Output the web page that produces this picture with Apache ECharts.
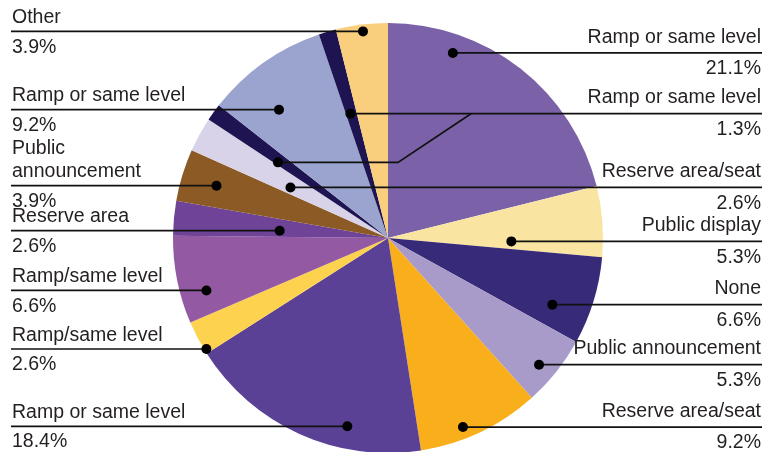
<!DOCTYPE html>
<html>
<head>
<meta charset="utf-8">
<script src="https://cdn.jsdelivr.net/npm/echarts@6/dist/echarts.min.js"></script>
<style>
  html, body { margin: 0; padding: 0; background: #ffffff; }
  #chart { width: 765px; height: 452px; }
</style>
</head>
<body>
<div id="chart"></div>
<script>
// Slices, clockwise from 12 o'clock
const categories = [
  'Ramp or same level', 'Public display', 'None', 'Public announcement',
  'Reserve area/seat', 'Ramp or same level', 'Ramp/same level', 'Ramp/same level',
  'Reserve area', 'Public\nannouncement', 'Reserve area/seat', 'Ramp or same level',
  'Ramp or same level', 'Ramp or same level', 'Other'
];
const shares = [21.1, 5.3, 6.6, 5.3, 9.2, 18.4, 2.6, 6.6, 2.6, 3.9, 2.6, 1.3, 9.2, 1.3, 3.9];

const sliceColors = [
  '#7b62a8', '#fae4a1', '#372a78', '#a89bc9', '#f9af1b', '#5b4196', '#fdd24f', '#935aa3',
  '#6e4398', '#8c5a24', '#d8d3e8', '#1d1451', '#9ba4cf', '#1d1451', '#f9ce7d'
];

// Leader anchors: t = position along the slice sweep, rf = fraction of the radius.
// A leader with joinTo runs into the line of another slice instead of carrying its own label.
const leaders = [
  { t: 0.254, rf: 0.912, side: 'right' },
  { t: 0.814, rf: 0.574, side: 'right' },
  { t: 0.712, rf: 0.825, side: 'right' },
  { t: 0.580, rf: 0.917, side: 'right' },
  { t: 0.614, rf: 0.946, side: 'right' },
  { t: 0.317, rf: 0.896, side: 'left' },
  { t: 0.116, rf: 0.990, side: 'left' },
  { t: 0.296, rf: 0.879, side: 'left' },
  { t: 0.345, rf: 0.505, side: 'left' },
  { t: 0.495, rf: 0.834, side: 'left' },
  { t: 0.358, rf: 0.511, side: 'right' },
  { t: 0.230, rf: 0.621, joinTo: 13, elbow: 10, join: 83 },
  { t: 0.348, rf: 0.783, side: 'left' },
  { t: 0.407, rf: 0.604, side: 'right' },
  { t: 0.509, rf: 0.968, side: 'left' }
];

const CENTER = [388, 238];
const RADIUS = 215;
const LEFT_X = 11;
const RIGHT_X = 762;
const FONT = { fontSize: 19.5, fontFamily: '"Liberation Sans", Arial, Helvetica, sans-serif' };
const TEXT_COLOR = '#231f20';
const LINE_STEP = 23.4;

const total = shares.reduce((a, b) => a + b, 0);
const startAngles = [];
let acc = 0;
shares.forEach(v => { startAngles.push(acc / total * 360); acc += v; });

function anchor(i) {
  const L = leaders[i];
  const sweep = shares[i] / total * 360;
  const a = (startAngles[i] + L.t * sweep) * Math.PI / 180;
  const r = L.rf * RADIUS;
  return [CENTER[0] + r * Math.sin(a), CENTER[1] - r * Math.cos(a)];
}

function textEl(str, x, y, align) {
  return {
    type: 'text',
    style: Object.assign({
      text: str, x: x, y: y, fill: TEXT_COLOR,
      align: align, verticalAlign: 'middle'
    }, FONT)
  };
}

function renderLeader(params) {
  const i = params.dataIndex;
  const L = leaders[i];
  const p = anchor(i);
  const children = [];
  let pts;
  if (L.joinTo != null) {
    const q = anchor(L.joinTo);
    pts = [p, [CENTER[0] + L.elbow, p[1]], [CENTER[0] + L.join, q[1]]];
  } else {
    const left = L.side === 'left';
    const endX = left ? LEFT_X : RIGHT_X;
    pts = [p, [endX, p[1]]];
    const tx = left ? LEFT_X + 1 : RIGHT_X - 1;
    const align = left ? 'left' : 'right';
    const nameOff = left ? -13.8 : -15.8;
    const lines = categories[i].split('\n');
    for (let k = lines.length - 1, n = 0; k >= 0; k--, n++) {
      children.push(textEl(lines[k], tx, p[1] + nameOff - n * LINE_STEP, align));
    }
    children.push(textEl(shares[i].toFixed(1) + '%', tx, p[1] + 15.8, align));
  }
  children.push({
    type: 'polyline',
    shape: { points: pts },
    style: { stroke: '#111111', lineWidth: 1.7, fill: null }
  });
  children.push({
    type: 'circle',
    shape: { cx: p[0], cy: p[1], r: 5 },
    style: { fill: '#000000' }
  });
  return { type: 'group', children: children };
}

const chart = echarts.init(document.getElementById('chart'), null, { renderer: 'canvas' });
chart.setOption({
  backgroundColor: '#ffffff',
  animation: false,
  series: [
    {
      type: 'pie',
      center: CENTER,
      radius: RADIUS,
      startAngle: 90,
      clockwise: true,
      avoidLabelOverlap: false,
      label: { show: false },
      labelLine: { show: false },
      emphasis: { disabled: true },
      itemStyle: { borderWidth: 0 },
      data: shares.map((v, i) => ({
        name: categories[i], value: v, itemStyle: { color: sliceColors[i] }
      }))
    },
    {
      type: 'custom',
      coordinateSystem: 'none',
      z: 10,
      silent: true,
      renderItem: renderLeader,
      data: shares.map((v, i) => [i, v])
    }
  ]
});
</script>
</body>
</html>
